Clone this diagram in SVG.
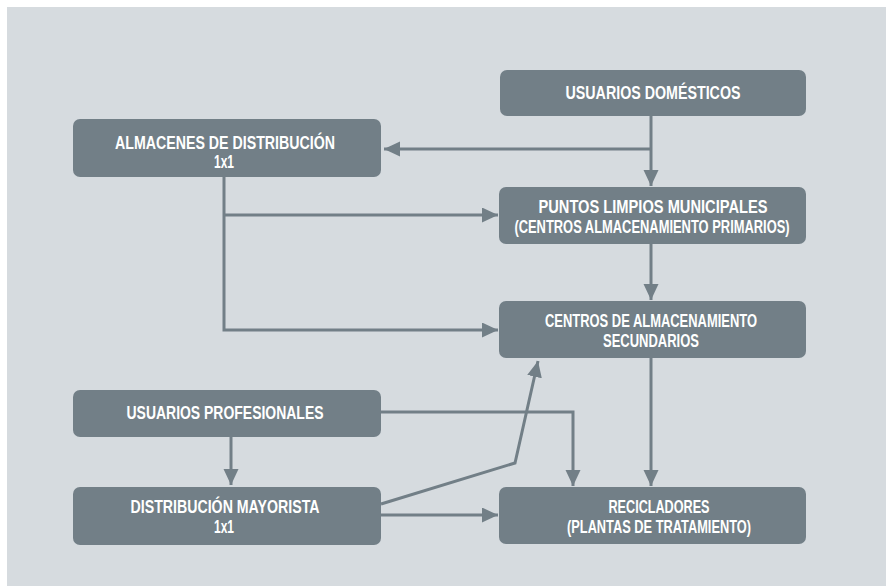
<svg xmlns="http://www.w3.org/2000/svg" width="886" height="586" viewBox="0 0 886 586">
<style>
.box{fill:#727f87}
.t{fill:#fff;font-family:"Liberation Sans Narrow","Liberation Sans",Arial,sans-serif;font-weight:bold;font-size:18px;text-anchor:middle}
.c{fill:none;stroke:#727f87;stroke-width:3}
</style>
<defs>
<marker id="ah" markerUnits="userSpaceOnUse" markerWidth="18" markerHeight="16" refX="16" refY="7.5" orient="auto">
<path d="M0,0 L16,7.5 L0,15 Z" fill="#727f87"/>
</marker>
</defs>
<rect x="0" y="0" width="886" height="586" fill="#fff"/>
<rect x="7" y="7" width="879" height="579" fill="#d6dbdf"/>
<g id="connectors">
<path class="c" d="M651,116 V186" marker-end="url(#ah)"/>
<path class="c" d="M651,149 H384" marker-end="url(#ah)"/>
<path class="c" d="M224,177 V330 H498" marker-end="url(#ah)"/>
<path class="c" d="M224,215 H498" marker-end="url(#ah)"/>
<path class="c" d="M651,244 V300" marker-end="url(#ah)"/>
<path class="c" d="M651,358 V486" marker-end="url(#ah)"/>
<path class="c" d="M381,412 H573 V486" marker-end="url(#ah)"/>
<path class="c" d="M231,437 V485" marker-end="url(#ah)"/>
<path class="c" d="M381,504 L515,463 L538,361" marker-end="url(#ah)"/>
<path class="c" d="M381,515 H498" marker-end="url(#ah)"/>
</g>
<g id="usuarios-domesticos">
<rect class="box" x="500" y="70" width="306" height="46" rx="7"/>
<text class="t" x="653" y="99" textLength="175" lengthAdjust="spacingAndGlyphs">USUARIOS DOMÉSTICOS</text>
</g>
<g id="almacenes">
<rect class="box" x="73" y="119" width="308" height="58" rx="7"/>
<text class="t" x="225" y="149" textLength="220" lengthAdjust="spacingAndGlyphs">ALMACENES DE DISTRIBUCIÓN</text>
<text class="t" x="224" y="168" textLength="20" lengthAdjust="spacingAndGlyphs">1x1</text>
</g>
<g id="puntos-limpios">
<rect class="box" x="499" y="187" width="307" height="57" rx="7"/>
<text class="t" x="653" y="213" textLength="229" lengthAdjust="spacingAndGlyphs">PUNTOS LIMPIOS MUNICIPALES</text>
<text class="t" transform="translate(652,233) scale(0.717,1)" x="0" y="0">(CENTROS ALMACENAMIENTO PRIMARIOS)</text>
</g>
<g id="centros-secundarios">
<rect class="box" x="499" y="301" width="307" height="57" rx="7"/>
<text class="t" x="651" y="327" textLength="212" lengthAdjust="spacingAndGlyphs">CENTROS DE ALMACENAMIENTO</text>
<text class="t" x="651" y="347" textLength="96" lengthAdjust="spacingAndGlyphs">SECUNDARIOS</text>
</g>
<g id="usuarios-profesionales">
<rect class="box" x="73" y="390" width="308" height="47" rx="7"/>
<text class="t" x="225" y="419" textLength="197" lengthAdjust="spacingAndGlyphs">USUARIOS PROFESIONALES</text>
</g>
<g id="distribucion-mayorista">
<rect class="box" x="73" y="487" width="308" height="58" rx="7"/>
<text class="t" x="225" y="513" textLength="189" lengthAdjust="spacingAndGlyphs">DISTRIBUCIÓN MAYORISTA</text>
<text class="t" x="224" y="533" textLength="20" lengthAdjust="spacingAndGlyphs">1x1</text>
</g>
<g id="recicladores">
<rect class="box" x="499" y="487" width="307" height="57" rx="7"/>
<text class="t" x="659" y="513" textLength="101" lengthAdjust="spacingAndGlyphs">RECICLADORES</text>
<text class="t" x="659" y="533" textLength="184" lengthAdjust="spacingAndGlyphs">(PLANTAS DE TRATAMIENTO)</text>
</g>
</svg>
